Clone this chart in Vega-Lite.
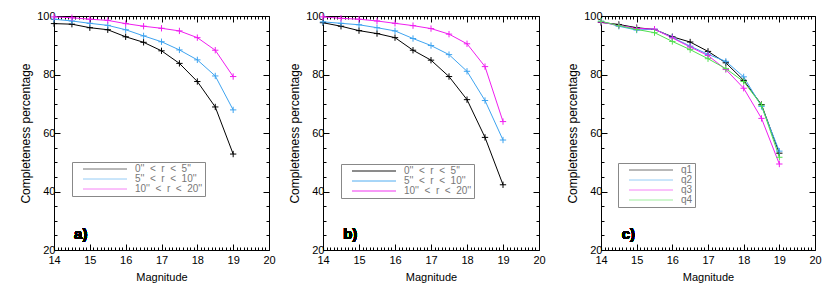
{
  "$schema": "https://vega.github.io/schema/vega-lite/v6.json",
  "padding": {"left": 19, "top": 9, "right": 2, "bottom": 2},
  "config": {
    "font": "Liberation Sans",
    "view": {"stroke": "#000000", "strokeWidth": 1},
    "axis": {"grid": false, "domain": false, "labelFontSize": 11, "titleFontSize": 11, "titleFontWeight": "normal", "labelColor": "#000000", "titleColor": "#000000", "tickColor": "#000000", "tickWidth": 1, "labelOverlap": false, "labelFlush": false},
    "axisLeft": {"titleFontSize": 12}
  },
  "data": {"values": [
    {"panel":"a","series":"0'' < r < 5''","mag":14,"pct":97.4},{"panel":"a","series":"0'' < r < 5''","mag":14.5,"pct":97.2},{"panel":"a","series":"0'' < r < 5''","mag":15,"pct":96.0},{"panel":"a","series":"0'' < r < 5''","mag":15.5,"pct":95.3},{"panel":"a","series":"0'' < r < 5''","mag":16,"pct":92.9},{"panel":"a","series":"0'' < r < 5''","mag":16.5,"pct":91.0},{"panel":"a","series":"0'' < r < 5''","mag":17,"pct":88.1},{"panel":"a","series":"0'' < r < 5''","mag":17.5,"pct":83.8},{"panel":"a","series":"0'' < r < 5''","mag":18,"pct":77.6},{"panel":"a","series":"0'' < r < 5''","mag":18.5,"pct":68.9},{"panel":"a","series":"0'' < r < 5''","mag":19,"pct":52.8},
    {"panel":"a","series":"5'' < r < 10''","mag":14,"pct":98.9},{"panel":"a","series":"5'' < r < 10''","mag":14.5,"pct":98.3},{"panel":"a","series":"5'' < r < 10''","mag":15,"pct":97.5},{"panel":"a","series":"5'' < r < 10''","mag":15.5,"pct":96.8},{"panel":"a","series":"5'' < r < 10''","mag":16,"pct":95.3},{"panel":"a","series":"5'' < r < 10''","mag":16.5,"pct":93.2},{"panel":"a","series":"5'' < r < 10''","mag":17,"pct":91.2},{"panel":"a","series":"5'' < r < 10''","mag":17.5,"pct":88.4},{"panel":"a","series":"5'' < r < 10''","mag":18,"pct":85.0},{"panel":"a","series":"5'' < r < 10''","mag":18.5,"pct":79.5},{"panel":"a","series":"5'' < r < 10''","mag":19,"pct":67.9},
    {"panel":"a","series":"10'' < r < 20''","mag":14,"pct":99.7},{"panel":"a","series":"10'' < r < 20''","mag":14.5,"pct":99.4},{"panel":"a","series":"10'' < r < 20''","mag":15,"pct":98.9},{"panel":"a","series":"10'' < r < 20''","mag":15.5,"pct":98.5},{"panel":"a","series":"10'' < r < 20''","mag":16,"pct":97.4},{"panel":"a","series":"10'' < r < 20''","mag":16.5,"pct":96.5},{"panel":"a","series":"10'' < r < 20''","mag":17,"pct":95.8},{"panel":"a","series":"10'' < r < 20''","mag":17.5,"pct":94.9},{"panel":"a","series":"10'' < r < 20''","mag":18,"pct":92.6},{"panel":"a","series":"10'' < r < 20''","mag":18.5,"pct":88.3},{"panel":"a","series":"10'' < r < 20''","mag":19,"pct":79.3},
    {"panel":"b","series":"0'' < r < 5''","mag":14,"pct":97.7},{"panel":"b","series":"0'' < r < 5''","mag":14.5,"pct":96.5},{"panel":"b","series":"0'' < r < 5''","mag":15,"pct":95.0},{"panel":"b","series":"0'' < r < 5''","mag":15.5,"pct":94.0},{"panel":"b","series":"0'' < r < 5''","mag":16,"pct":92.6},{"panel":"b","series":"0'' < r < 5''","mag":16.5,"pct":88.3},{"panel":"b","series":"0'' < r < 5''","mag":17,"pct":84.9},{"panel":"b","series":"0'' < r < 5''","mag":17.5,"pct":79.3},{"panel":"b","series":"0'' < r < 5''","mag":18,"pct":71.4},{"panel":"b","series":"0'' < r < 5''","mag":18.5,"pct":58.5},{"panel":"b","series":"0'' < r < 5''","mag":19,"pct":42.3},
    {"panel":"b","series":"5'' < r < 10''","mag":14,"pct":98.0},{"panel":"b","series":"5'' < r < 10''","mag":14.5,"pct":97.5},{"panel":"b","series":"5'' < r < 10''","mag":15,"pct":97.0},{"panel":"b","series":"5'' < r < 10''","mag":15.5,"pct":96.0},{"panel":"b","series":"5'' < r < 10''","mag":16,"pct":94.9},{"panel":"b","series":"5'' < r < 10''","mag":16.5,"pct":92.3},{"panel":"b","series":"5'' < r < 10''","mag":17,"pct":89.9},{"panel":"b","series":"5'' < r < 10''","mag":17.5,"pct":86.8},{"panel":"b","series":"5'' < r < 10''","mag":18,"pct":81.1},{"panel":"b","series":"5'' < r < 10''","mag":18.5,"pct":71.1},{"panel":"b","series":"5'' < r < 10''","mag":19,"pct":57.6},
    {"panel":"b","series":"10'' < r < 20''","mag":14,"pct":99.7},{"panel":"b","series":"10'' < r < 20''","mag":14.5,"pct":99.2},{"panel":"b","series":"10'' < r < 20''","mag":15,"pct":98.9},{"panel":"b","series":"10'' < r < 20''","mag":15.5,"pct":98.3},{"panel":"b","series":"10'' < r < 20''","mag":16,"pct":97.5},{"panel":"b","series":"10'' < r < 20''","mag":16.5,"pct":96.7},{"panel":"b","series":"10'' < r < 20''","mag":17,"pct":95.7},{"panel":"b","series":"10'' < r < 20''","mag":17.5,"pct":93.8},{"panel":"b","series":"10'' < r < 20''","mag":18,"pct":90.5},{"panel":"b","series":"10'' < r < 20''","mag":18.5,"pct":82.7},{"panel":"b","series":"10'' < r < 20''","mag":19,"pct":63.9},
    {"panel":"c","series":"q1","mag":14,"pct":97.8},{"panel":"c","series":"q1","mag":14.5,"pct":97.1},{"panel":"c","series":"q1","mag":15,"pct":96.0},{"panel":"c","series":"q1","mag":15.5,"pct":95.4},{"panel":"c","series":"q1","mag":16,"pct":92.9},{"panel":"c","series":"q1","mag":16.5,"pct":91.1},{"panel":"c","series":"q1","mag":17,"pct":87.9},{"panel":"c","series":"q1","mag":17.5,"pct":84.0},{"panel":"c","series":"q1","mag":18,"pct":78.0},{"panel":"c","series":"q1","mag":18.5,"pct":69.7},{"panel":"c","series":"q1","mag":19,"pct":53.1},
    {"panel":"c","series":"q2","mag":14,"pct":98.2},{"panel":"c","series":"q2","mag":14.5,"pct":96.5},{"panel":"c","series":"q2","mag":15,"pct":95.2},{"panel":"c","series":"q2","mag":15.5,"pct":95.5},{"panel":"c","series":"q2","mag":16,"pct":92.7},{"panel":"c","series":"q2","mag":16.5,"pct":89.7},{"panel":"c","series":"q2","mag":17,"pct":86.9},{"panel":"c","series":"q2","mag":17.5,"pct":84.5},{"panel":"c","series":"q2","mag":18,"pct":79.2},{"panel":"c","series":"q2","mag":18.5,"pct":69.1},{"panel":"c","series":"q2","mag":19,"pct":53.8},
    {"panel":"c","series":"q3","mag":14,"pct":97.9},{"panel":"c","series":"q3","mag":14.5,"pct":96.8},{"panel":"c","series":"q3","mag":15,"pct":95.8},{"panel":"c","series":"q3","mag":15.5,"pct":95.5},{"panel":"c","series":"q3","mag":16,"pct":92.5},{"panel":"c","series":"q3","mag":16.5,"pct":89.4},{"panel":"c","series":"q3","mag":17,"pct":86.5},{"panel":"c","series":"q3","mag":17.5,"pct":81.7},{"panel":"c","series":"q3","mag":18,"pct":75.3},{"panel":"c","series":"q3","mag":18.5,"pct":65.0},{"panel":"c","series":"q3","mag":19,"pct":49.4},
    {"panel":"c","series":"q4","mag":14,"pct":98.2},{"panel":"c","series":"q4","mag":14.5,"pct":96.7},{"panel":"c","series":"q4","mag":15,"pct":95.4},{"panel":"c","series":"q4","mag":15.5,"pct":94.3},{"panel":"c","series":"q4","mag":16,"pct":91.3},{"panel":"c","series":"q4","mag":16.5,"pct":88.5},{"panel":"c","series":"q4","mag":17,"pct":85.4},{"panel":"c","series":"q4","mag":17.5,"pct":82.0},{"panel":"c","series":"q4","mag":18,"pct":77.6},{"panel":"c","series":"q4","mag":18.5,"pct":69.5},{"panel":"c","series":"q4","mag":19,"pct":51.7}
  ]},
  "resolve": {"scale": {"color": "independent", "x": "independent", "y": "independent"}, "legend": {"color": "independent"}},
  "spacing": 20,
  "hconcat": [
    {
      "resolve": {"scale": {"color": "independent", "x": "independent", "y": "independent"}, "legend": {"color": "independent"}},
      "spacing": 12,
      "hconcat": [
        {
          "width": 215, "height": 234,
          "transform": [{"filter": "datum.panel === 'a'"}],
          "layer": [
            {"mark": {"type": "line", "strokeWidth": 1},
             "encoding": {
               "x": {"field": "mag", "type": "quantitative", "scale": {"domain": [14, 20], "nice": false, "zero": false},
                     "axis": {"orient": "bottom", "title": "Magnitude", "titlePadding": 3, "labelPadding": 10, "values": [14,14.1,14.2,14.3,14.4,14.5,14.6,14.7,14.8,14.9,15,15.1,15.2,15.3,15.4,15.5,15.6,15.7,15.8,15.9,16,16.1,16.2,16.3,16.4,16.5,16.6,16.7,16.8,16.9,17,17.1,17.2,17.3,17.4,17.5,17.6,17.7,17.8,17.9,18,18.1,18.2,18.3,18.4,18.5,18.6,18.7,18.8,18.9,19,19.1,19.2,19.3,19.4,19.5,19.6,19.7,19.8,19.9,20],
                              "labelExpr": "datum.value % 1 === 0 ? format(datum.value, 'd') : ''",
                              "tickSize": {"condition": {"test": "datum.value % 1 === 0", "value": -6}, "value": -3}}},
               "y": {"field": "pct", "type": "quantitative", "scale": {"domain": [20, 100], "nice": false, "zero": false},
                     "axis": {"orient": "left", "title": "Completeness percentage", "titlePadding": 4, "labelPadding": 5, "values": [20,25,30,35,40,45,50,55,60,65,70,75,80,85,90,95,100],
                              "labelExpr": "datum.value % 20 === 0 ? datum.label : ''",
                              "tickSize": {"condition": {"test": "datum.value % 20 === 0", "value": -6}, "value": -3}}},
               "color": {"field": "series", "type": "nominal",
                         "scale": {"domain": ["0'' < r < 5''", "5'' < r < 10''", "10'' < r < 20''"], "range": ["#000000", "#3fa4f0", "#f01ef0"]},
                         "legend": {"orient": "none", "legendX": 18, "legendY": 146, "title": null, "direction": "vertical", "strokeColor": "#888888", "padding": 2, "rowPadding": 0,
                                    "symbolType": "M1,0L12,0", "symbolSize": 64, "symbolStrokeWidth": 1, "symbolOpacity": 0.55, "labelOffset": 51,
                                    "labelFontSize": 10, "labelColor": "#777777",
                                    "labelExpr": "replace(datum.label, regexp(' ', 'g'), '\u00a0\u00a0')"}}
             }},
            {"mark": {"type": "point", "shape": "M-1,0L1,0M0,-1L0,1", "filled": false, "size": 40, "strokeWidth": 1, "opacity": 1},
             "encoding": {
               "x": {"field": "mag", "type": "quantitative",
                     "axis": {"orient": "top", "title": null, "labels": false, "values": [14,14.1,14.2,14.3,14.4,14.5,14.6,14.7,14.8,14.9,15,15.1,15.2,15.3,15.4,15.5,15.6,15.7,15.8,15.9,16,16.1,16.2,16.3,16.4,16.5,16.6,16.7,16.8,16.9,17,17.1,17.2,17.3,17.4,17.5,17.6,17.7,17.8,17.9,18,18.1,18.2,18.3,18.4,18.5,18.6,18.7,18.8,18.9,19,19.1,19.2,19.3,19.4,19.5,19.6,19.7,19.8,19.9,20],
                              "tickSize": {"condition": {"test": "datum.value % 1 === 0", "value": -6}, "value": -3}}},
               "y": {"field": "pct", "type": "quantitative",
                     "axis": {"orient": "right", "title": null, "labels": false, "values": [20,25,30,35,40,45,50,55,60,65,70,75,80,85,90,95,100],
                              "tickSize": {"condition": {"test": "datum.value % 20 === 0", "value": -6}, "value": -3}}},
               "color": {"field": "series", "type": "nominal", "legend": null}
             }},
            {"mark": {"type": "text", "text": "a)", "fontSize": 15, "fontWeight": "bold", "align": "left", "baseline": "middle"},
             "encoding": {"x": {"datum": 14.56, "type": "quantitative", "axis": null}, "y": {"datum": 25.6, "type": "quantitative", "axis": null}}}
          ]
        },
        {
          "width": 216, "height": 234,
          "transform": [{"filter": "datum.panel === 'b'"}],
          "layer": [
            {"mark": {"type": "line", "strokeWidth": 1},
             "encoding": {
               "x": {"field": "mag", "type": "quantitative", "scale": {"domain": [14, 20], "nice": false, "zero": false},
                     "axis": {"orient": "bottom", "title": "Magnitude", "titlePadding": 3, "labelPadding": 10, "values": [14,14.1,14.2,14.3,14.4,14.5,14.6,14.7,14.8,14.9,15,15.1,15.2,15.3,15.4,15.5,15.6,15.7,15.8,15.9,16,16.1,16.2,16.3,16.4,16.5,16.6,16.7,16.8,16.9,17,17.1,17.2,17.3,17.4,17.5,17.6,17.7,17.8,17.9,18,18.1,18.2,18.3,18.4,18.5,18.6,18.7,18.8,18.9,19,19.1,19.2,19.3,19.4,19.5,19.6,19.7,19.8,19.9,20],
                              "labelExpr": "datum.value % 1 === 0 ? format(datum.value, 'd') : ''",
                              "tickSize": {"condition": {"test": "datum.value % 1 === 0", "value": -6}, "value": -3}}},
               "y": {"field": "pct", "type": "quantitative", "scale": {"domain": [20, 100], "nice": false, "zero": false},
                     "axis": {"orient": "left", "title": "Completeness percentage", "titlePadding": 4, "labelPadding": 5, "values": [20,25,30,35,40,45,50,55,60,65,70,75,80,85,90,95,100],
                              "labelExpr": "datum.value % 20 === 0 ? datum.label : ''",
                              "tickSize": {"condition": {"test": "datum.value % 20 === 0", "value": -6}, "value": -3}}},
               "color": {"field": "series", "type": "nominal",
                         "scale": {"domain": ["0'' < r < 5''", "5'' < r < 10''", "10'' < r < 20''"], "range": ["#000000", "#3fa4f0", "#f01ef0"]},
                         "legend": {"orient": "none", "legendX": 18, "legendY": 148, "title": null, "direction": "vertical", "strokeColor": "#888888", "padding": 2, "rowPadding": 0,
                                    "symbolType": "M1,0L12,0", "symbolSize": 64, "symbolStrokeWidth": 1, "symbolOpacity": 0.9, "labelOffset": 51,
                                    "labelFontSize": 10, "labelColor": "#777777",
                                    "labelExpr": "replace(datum.label, regexp(' ', 'g'), '\u00a0\u00a0')"}}
             }},
            {"mark": {"type": "point", "shape": "M-1,0L1,0M0,-1L0,1", "filled": false, "size": 40, "strokeWidth": 1, "opacity": 1},
             "encoding": {
               "x": {"field": "mag", "type": "quantitative",
                     "axis": {"orient": "top", "title": null, "labels": false, "values": [14,14.1,14.2,14.3,14.4,14.5,14.6,14.7,14.8,14.9,15,15.1,15.2,15.3,15.4,15.5,15.6,15.7,15.8,15.9,16,16.1,16.2,16.3,16.4,16.5,16.6,16.7,16.8,16.9,17,17.1,17.2,17.3,17.4,17.5,17.6,17.7,17.8,17.9,18,18.1,18.2,18.3,18.4,18.5,18.6,18.7,18.8,18.9,19,19.1,19.2,19.3,19.4,19.5,19.6,19.7,19.8,19.9,20],
                              "tickSize": {"condition": {"test": "datum.value % 1 === 0", "value": -6}, "value": -3}}},
               "y": {"field": "pct", "type": "quantitative",
                     "axis": {"orient": "right", "title": null, "labels": false, "values": [20,25,30,35,40,45,50,55,60,65,70,75,80,85,90,95,100],
                              "tickSize": {"condition": {"test": "datum.value % 20 === 0", "value": -6}, "value": -3}}},
               "color": {"field": "series", "type": "nominal", "legend": null}
             }},
            {"mark": {"type": "text", "text": "b)", "fontSize": 15, "fontWeight": "bold", "align": "left", "baseline": "middle"},
             "encoding": {"x": {"datum": 14.56, "type": "quantitative", "axis": null}, "y": {"datum": 25.6, "type": "quantitative", "axis": null}}}
          ]
        }
      ]
    },
    {
      "width": 214, "height": 234,
      "transform": [{"filter": "datum.panel === 'c'"}],
      "layer": [
        {"mark": {"type": "line", "strokeWidth": 1},
         "encoding": {
           "x": {"field": "mag", "type": "quantitative", "scale": {"domain": [14, 20], "nice": false, "zero": false},
                 "axis": {"orient": "bottom", "title": "Magnitude", "titlePadding": 3, "labelPadding": 10, "values": [14,14.1,14.2,14.3,14.4,14.5,14.6,14.7,14.8,14.9,15,15.1,15.2,15.3,15.4,15.5,15.6,15.7,15.8,15.9,16,16.1,16.2,16.3,16.4,16.5,16.6,16.7,16.8,16.9,17,17.1,17.2,17.3,17.4,17.5,17.6,17.7,17.8,17.9,18,18.1,18.2,18.3,18.4,18.5,18.6,18.7,18.8,18.9,19,19.1,19.2,19.3,19.4,19.5,19.6,19.7,19.8,19.9,20],
                          "labelExpr": "datum.value % 1 === 0 ? format(datum.value, 'd') : ''",
                          "tickSize": {"condition": {"test": "datum.value % 1 === 0", "value": -6}, "value": -3}}},
           "y": {"field": "pct", "type": "quantitative", "scale": {"domain": [20, 100], "nice": false, "zero": false},
                 "axis": {"orient": "left", "title": "Completeness percentage", "titlePadding": 4, "labelPadding": 5, "values": [20,25,30,35,40,45,50,55,60,65,70,75,80,85,90,95,100],
                          "labelExpr": "datum.value % 20 === 0 ? datum.label : ''",
                          "tickSize": {"condition": {"test": "datum.value % 20 === 0", "value": -6}, "value": -3}}},
           "color": {"field": "series", "type": "nominal",
                     "scale": {"domain": ["q1", "q2", "q3", "q4"], "range": ["#000000", "#3fa4f0", "#f01ef0", "#50e050"]},
                     "legend": {"orient": "none", "legendX": 17, "legendY": 147, "title": null, "direction": "vertical", "strokeColor": "#888888", "padding": 2, "rowPadding": 0,
                                "symbolType": "M1,0L12,0", "symbolSize": 64, "symbolStrokeWidth": 1, "symbolOpacity": 0.55, "labelOffset": 51,
                                "labelFontSize": 10, "labelColor": "#777777"}}
         }},
        {"mark": {"type": "point", "shape": "M-1,0L1,0M0,-1L0,1", "filled": false, "size": 40, "strokeWidth": 1, "opacity": 1},
         "encoding": {
           "x": {"field": "mag", "type": "quantitative",
                 "axis": {"orient": "top", "title": null, "labels": false, "values": [14,14.1,14.2,14.3,14.4,14.5,14.6,14.7,14.8,14.9,15,15.1,15.2,15.3,15.4,15.5,15.6,15.7,15.8,15.9,16,16.1,16.2,16.3,16.4,16.5,16.6,16.7,16.8,16.9,17,17.1,17.2,17.3,17.4,17.5,17.6,17.7,17.8,17.9,18,18.1,18.2,18.3,18.4,18.5,18.6,18.7,18.8,18.9,19,19.1,19.2,19.3,19.4,19.5,19.6,19.7,19.8,19.9,20],
                          "tickSize": {"condition": {"test": "datum.value % 1 === 0", "value": -6}, "value": -3}}},
           "y": {"field": "pct", "type": "quantitative",
                 "axis": {"orient": "right", "title": null, "labels": false, "values": [20,25,30,35,40,45,50,55,60,65,70,75,80,85,90,95,100],
                          "tickSize": {"condition": {"test": "datum.value % 20 === 0", "value": -6}, "value": -3}}},
           "color": {"field": "series", "type": "nominal", "legend": null}
         }},
        {"mark": {"type": "text", "text": "c)", "fontSize": 15, "fontWeight": "bold", "align": "left", "baseline": "middle"},
         "encoding": {"x": {"datum": 14.58, "type": "quantitative", "axis": null}, "y": {"datum": 25.6, "type": "quantitative", "axis": null}}}
      ]
    }
  ]
}
